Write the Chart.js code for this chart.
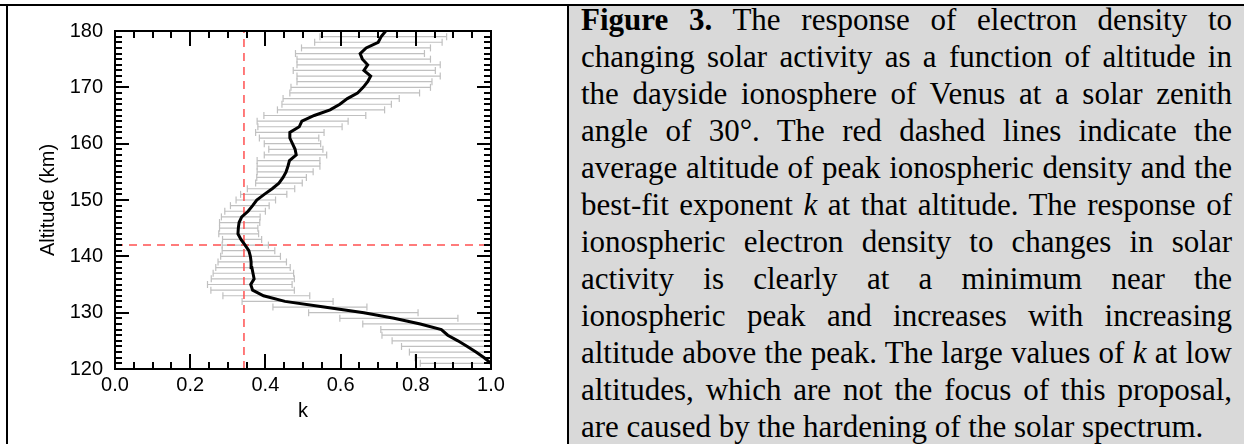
<!DOCTYPE html>
<html><head><meta charset="utf-8">
<script src="https://cdn.jsdelivr.net/npm/chart.js@4.4.1/dist/chart.umd.min.js"></script>
<style>
html,body{margin:0;padding:0;background:#fff;}
body{width:1244px;height:444px;position:relative;overflow:hidden;}
#topline{position:absolute;left:0;top:4px;width:1244px;height:2px;background:#000;}
#leftline{position:absolute;left:6px;top:4px;width:2px;height:440px;background:#000;}
#divider{position:absolute;left:567px;top:4px;width:2px;height:440px;background:#000;}
#caption{position:absolute;left:569px;top:6px;width:675px;height:438px;background:#d9d9d9;}
#captext{position:absolute;left:581px;top:1px;width:651px;font-family:"Liberation Serif","Times New Roman",serif;font-size:31px;line-height:37px;color:#000;}
#captext div{text-align:justify;text-align-last:justify;}
#captext div.last{text-align-last:left;}
#chartbox{position:absolute;left:9px;top:7px;width:558px;height:437px;}
</style>
</head><body>
<div id="topline"></div>
<div id="leftline"></div>
<div id="caption"></div>
<div id="divider"></div>
<div id="captext">
<div><b>Figure 3.</b> The response of electron density to</div>
<div>changing solar activity as a function of altitude in</div>
<div>the dayside ionosphere of Venus at a solar zenith</div>
<div>angle of 30°. The red dashed lines indicate the</div>
<div>average altitude of peak ionospheric density and the</div>
<div>best-fit exponent <i>k</i> at that altitude. The response of</div>
<div>ionospheric electron density to changes in solar</div>
<div>activity is clearly at a minimum near the</div>
<div>ionospheric peak and increases with increasing</div>
<div>altitude above the peak. The large values of <i>k</i> at low</div>
<div>altitudes, which are not the focus of this proposal,</div>
<div class="last">are caused by the hardening of the solar spectrum.</div>
</div>
<div id="chartbox"><canvas id="c"></canvas></div>
<script>
// ---- data ----
const altitudes = [121,122,123,124,125,126,127,128,129,130,131,132,133,134,135,136,137,138,139,140,
  141,142,143,144,145,146,147,148,149,150,151,152,153,154,155,156,157,158,159,160,
  161,162,163,164,165,166,167,168,169,170,171,172,173,174,175,176,177,178,179,180];
const kValues = [1.000,0.982,0.960,0.937,0.912,0.885,0.868,0.812,0.742,0.662,0.556,0.452,0.395,0.366,0.361,0.370,0.367,0.364,0.362,0.360,
  0.356,0.346,0.335,0.327,0.328,0.330,0.337,0.354,0.366,0.377,0.397,0.418,0.436,0.447,0.455,0.460,0.464,0.482,0.479,0.472,
  0.465,0.465,0.490,0.497,0.530,0.572,0.598,0.618,0.645,0.660,0.672,0.680,0.662,0.672,0.658,0.652,0.668,0.700,0.708,0.720];
const barAltitudes = [121,122,123,124,125,126,127,128,129,130,131,132,133,134,135,136,137,138,139,140,
  141,142,143,144,145,146,147,148,149,150,151,152,153,154,155,156,157,158,159,160,
  161,162,163,164,165,166,167,168,169,170,171,172,173,174,175,176,177,178,179];
const kLow = [0.812,0.798,0.783,0.762,0.737,0.710,0.707,0.659,0.598,0.515,0.420,0.338,0.287,0.255,0.246,0.256,0.261,0.268,0.274,0.281,
  0.285,0.285,0.286,0.276,0.278,0.278,0.283,0.292,0.307,0.322,0.334,0.352,0.374,0.377,0.378,0.378,0.378,0.397,0.409,0.397,
  0.384,0.374,0.380,0.378,0.396,0.432,0.444,0.447,0.465,0.468,0.484,0.484,0.474,0.484,0.484,0.480,0.496,0.531,0.545];
const kHigh = [1.18,1.16,1.14,1.11,1.09,1.06,1.03,1.01,0.912,0.806,0.670,0.580,0.518,0.477,0.471,0.477,0.475,0.466,0.456,0.440,
  0.425,0.408,0.390,0.382,0.380,0.385,0.386,0.400,0.410,0.427,0.457,0.478,0.498,0.509,0.527,0.545,0.545,0.563,0.553,0.547,
  0.542,0.556,0.604,0.620,0.667,0.717,0.735,0.756,0.810,0.839,0.843,0.865,0.852,0.865,0.839,0.823,0.839,0.870,0.882];
const peakAltitude = 142;
const peakK = 0.343;
const xTickLabels = ['0.0','0.2','0.4','0.6','0.8','1.0'];
const yTickLabels = ['120','130','140','150','160','170','180'];

// ---- build ----
const curvePts = altitudes.map((a,i)=>({x:kValues[i], y:a}));
const errPts = [];
barAltitudes.forEach((a,i)=>{
  errPts.push({x:kLow[i], y:a});
  errPts.push({x:kHigh[i], y:a});
  errPts.push({x:null, y:null});
});

const FONT = {family:'"Liberation Sans", Arial, Helvetica, sans-serif', size:20};

const framePlugin = {
  id:'frame',
  afterDatasetsDraw(chart){
    const {ctx, chartArea:{left,right,top,bottom}, scales:{x,y}} = chart;
    ctx.save();
    ctx.strokeStyle = '#000';
    ctx.lineWidth = 2;
    ctx.beginPath();
    // x ticks (minor every 0.05, major every 0.2)
    for(let i=0;i<=20;i++){
      const px = Math.round(x.getPixelForValue(i*0.05));
      const len = (i%4===0) ? 15 : 7;
      ctx.moveTo(px,bottom); ctx.lineTo(px,bottom-len);
      ctx.moveTo(px,top); ctx.lineTo(px,top+len);
    }
    // y ticks (minor every 1, major every 10)
    for(let v=120; v<=180; v++){
      const py = Math.round(y.getPixelForValue(v));
      const len = (v%10===0) ? 14 : 7;
      ctx.moveTo(left,py); ctx.lineTo(left+len,py);
      ctx.moveTo(right,py); ctx.lineTo(right-len,py);
    }
    ctx.stroke();
    ctx.strokeRect(left,top,right-left,bottom-top);
    ctx.restore();
  }
};

new Chart(document.getElementById('c'), {
  type:'scatter',
  data:{datasets:[
    {label:'k', data:curvePts, showLine:true, borderColor:'#000', borderWidth:3, pointRadius:0, tension:0, order:1},
    {label:'peak altitude', data:[{x:0,y:peakAltitude},{x:1,y:peakAltitude}], showLine:true, borderColor:'#ff5050', borderWidth:1.5, borderDash:[8,6], pointRadius:0, order:2},
    {label:'peak k', data:[{x:peakK,y:120},{x:peakK,y:180}], showLine:true, borderColor:'#ff5050', borderWidth:1.5, borderDash:[8,6], pointRadius:0, order:2},
    {label:'error', data:errPts, showLine:true, spanGaps:false, borderColor:'#c0c0c0', borderWidth:1.2,
      pointStyle:'line', rotation:90, pointRadius:3.5, pointBorderColor:'#c0c0c0', pointBackgroundColor:'#c0c0c0', pointBorderWidth:1.2, order:3}
  ]},
  options:{
    responsive:true, maintainAspectRatio:false, animation:false,
    layout:{padding:{left:0,right:76,top:20,bottom:0}},
    plugins:{legend:{display:false}, tooltip:{enabled:false}},
    scales:{
      x:{type:'linear', min:0, max:1,
        grid:{display:false, drawTicks:false}, border:{display:false},
        ticks:{stepSize:0.2, padding:4, color:'#000', font:FONT, maxRotation:0,
          callback:(v)=>{const i=Math.round(v/0.2); return xTickLabels[i];}},
        title:{display:true, text:'k', color:'#000', font:FONT, padding:{top:0,bottom:21}},
        afterFit:(s)=>{s.height=75;}
      },
      y:{type:'linear', min:120, max:180,
        grid:{display:false, drawTicks:false}, border:{display:false},
        ticks:{stepSize:10, padding:12, color:'#000', font:FONT,
          callback:(v)=>{const i=Math.round((v-120)/10); return yTickLabels[i];}},
        title:{display:true, text:'Altitude (km)', color:'#000', font:FONT, padding:{top:27,bottom:0}},
        afterFit:(s)=>{s.width=106;}
      }
    }
  },
  plugins:[framePlugin]
});
</script>
</body></html>
